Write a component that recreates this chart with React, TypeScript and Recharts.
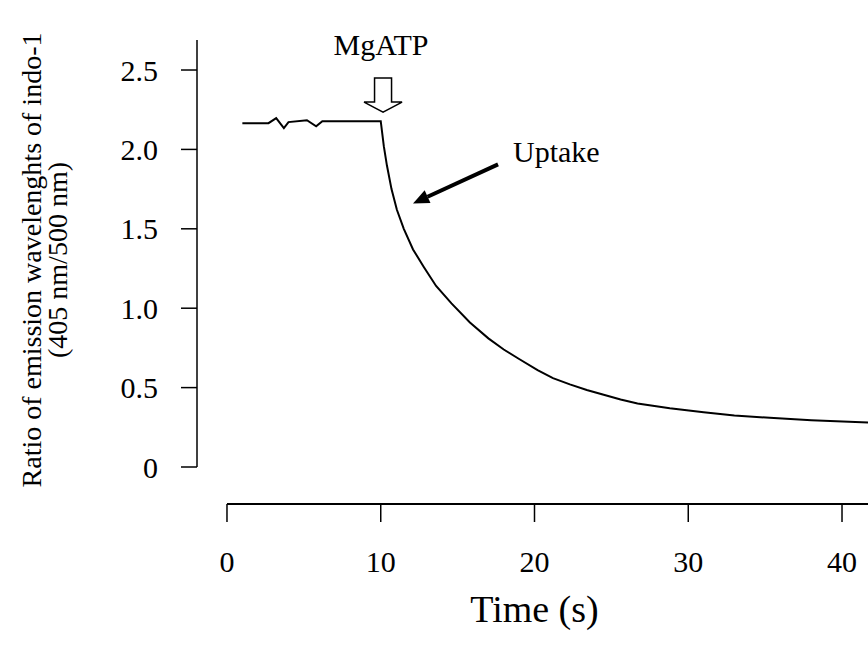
import React from 'react';
import {
  LineChart,
  Line,
  XAxis,
  YAxis,
  ReferenceLine,
  ReferenceDot,
} from 'recharts';

// indo-1 ratio trace (time in s, ratio 405/500 nm)
const timeValues = [
  1.0, 2.7, 3.2, 3.7, 4.0, 5.2, 5.8, 6.2, 10.0,
  10.2, 10.4, 10.7, 11.05, 11.5, 12.1, 12.8, 13.6, 14.6, 15.8,
  17.0, 18.0, 19.0, 20.2, 21.2, 22.3, 23.4, 24.5, 25.6, 26.7,
  28.8, 31.0, 33.0, 35.3, 38.0, 41.69,
];
const ratioValues = [
  2.165, 2.165, 2.197, 2.134, 2.172, 2.184, 2.146, 2.178, 2.178,
  2.02, 1.9, 1.75, 1.62, 1.5, 1.37, 1.26, 1.14, 1.03, 0.91,
  0.81, 0.74, 0.68, 0.61, 0.56, 0.52, 0.485, 0.455, 0.425, 0.4,
  0.37, 0.345, 0.325, 0.31, 0.295, 0.28,
];
const xTicks = [0, 10, 20, 30, 40];
const yTicks = [0, 0.5, 1.0, 1.5, 2.0, 2.5];

const FONT = "'Liberation Serif', 'Times New Roman', Times, serif";
const X_DOMAIN: [number, number] = [-1.95, 41.69];
const Y_DOMAIN: [number, number] = [-0.233, 2.689];

const data = timeValues.map((t, i) => ({ t, ratio: ratioValues[i] }));

// hollow MgATP arrow, tip at (cx, cy)
const MgAtpArrow = (props: any) => {
  const { cx, cy } = props;
  const pts = [
    [cx - 8.5, cy - 34],
    [cx + 8.5, cy - 34],
    [cx + 8.5, cy - 10],
    [cx + 19, cy - 10],
    [cx, cy],
    [cx - 19, cy - 10],
    [cx - 8.5, cy - 10],
  ]
    .map((p) => p.join(','))
    .join(' ');
  return (
    <g>
      <polygon points={pts} fill="#fff" stroke="#000" strokeWidth={1.5} />
      <text x={cx - 2} y={cy - 57} textAnchor="middle" fontFamily={FONT} fontSize={30} fill="#000">
        MgATP
      </text>
    </g>
  );
};

// solid "Uptake" arrow, tip at (cx, cy)
const UptakeArrow = (props: any) => {
  const { cx, cy } = props;
  const tailX = cx + 85;
  const tailY = cy - 39;
  const len = Math.hypot(85, 39);
  const ux = 85 / len;
  const uy = -39 / len;
  const bx = cx + ux * 16;
  const by = cy + uy * 16;
  const px = -uy;
  const py = ux;
  return (
    <g>
      <line x1={tailX} y1={tailY} x2={bx} y2={by} stroke="#000" strokeWidth={4} />
      <polygon
        points={`${cx},${cy} ${bx + px * 7},${by + py * 7} ${bx - px * 7},${by - py * 7}`}
        fill="#000"
      />
      <text x={cx + 100} y={cy - 41} fontFamily={FONT} fontSize={30} fill="#000">
        Uptake
      </text>
    </g>
  );
};

const renderYLabel = (props: any) => {
  const vb = props.viewBox || { x: 0, y: 40, width: 197, height: 464 };
  const cy = vb.y + vb.height / 2 - 12;
  return (
    <g>
      <text
        x={41}
        y={cy}
        transform={`rotate(-90, 41, ${cy})`}
        textAnchor="middle"
        fontFamily={FONT}
        fontSize={28}
        fill="#000"
      >
        Ratio of emission wavelenghts of indo-1
      </text>
      <text
        x={67}
        y={cy}
        transform={`rotate(-90, 67, ${cy})`}
        textAnchor="middle"
        fontFamily={FONT}
        fontSize={28}
        fill="#000"
      >
        (405 nm/500 nm)
      </text>
    </g>
  );
};

const renderXLabel = (props: any) => {
  const vb = props.viewBox || { x: 197, y: 504, width: 671, height: 142 };
  return (
    <text
      x={vb.x + vb.width / 2 + 2}
      y={vb.y + 118}
      textAnchor="middle"
      fontFamily={FONT}
      fontSize={38}
      fill="#000"
    >
      Time (s)
    </text>
  );
};

export default function App() {
  return (
    <div style={{ position: 'absolute', left: 0, top: 0, background: '#fff' }}>
      <LineChart
        width={868}
        height={646}
        data={data}
        margin={{ top: 40, right: 0, bottom: 0, left: 0 }}
      >
        <XAxis
          dataKey="t"
          type="number"
          domain={X_DOMAIN}
          ticks={xTicks}
          allowDataOverflow
          height={142}
          axisLine={false}
          tickLine={{ stroke: '#000', strokeWidth: 1.5 }}
          tickSize={18}
          tickMargin={29}
          tick={{ fontFamily: FONT, fontSize: 30, fill: '#000' }}
          label={renderXLabel}
        />
        <YAxis
          type="number"
          domain={Y_DOMAIN}
          ticks={yTicks}
          allowDataOverflow
          width={197}
          axisLine={false}
          tickLine={{ stroke: '#000', strokeWidth: 1.5 }}
          tickSize={16}
          tickMargin={23}
          tickFormatter={(v: number) => (v === 0 ? '0' : v.toFixed(1))}
          tick={{ fontFamily: FONT, fontSize: 30, fill: '#000' }}
          label={renderYLabel}
        />
        {/* y axis line stops at 0, x axis starts at 0 */}
        <ReferenceLine
          segment={[{ x: X_DOMAIN[0], y: 0 }, { x: X_DOMAIN[0], y: Y_DOMAIN[1] }]}
          stroke="#000"
          strokeWidth={1.5}
          ifOverflow="visible"
        />
        <ReferenceLine
          segment={[{ x: 0, y: Y_DOMAIN[0] }, { x: X_DOMAIN[1], y: Y_DOMAIN[0] }]}
          stroke="#000"
          strokeWidth={2}
          ifOverflow="visible"
        />
        <Line
          dataKey="ratio"
          type="linear"
          stroke="#000"
          strokeWidth={2}
          dot={false}
          activeDot={false}
          isAnimationActive={false}
        />
        <ReferenceDot x={10.15} y={2.235} r={0} ifOverflow="visible" shape={MgAtpArrow} />
        <ReferenceDot x={12.1} y={1.66} r={0} ifOverflow="visible" shape={UptakeArrow} />
      </LineChart>
    </div>
  );
}
